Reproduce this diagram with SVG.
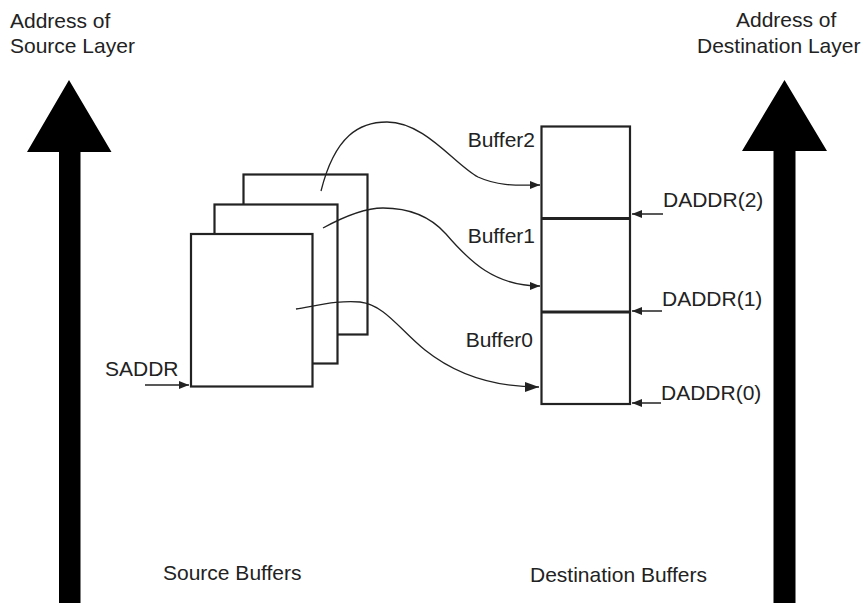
<svg xmlns="http://www.w3.org/2000/svg" width="864" height="603" viewBox="0 0 864 603">
<style>
text{font-family:"Liberation Sans",Arial,sans-serif;font-size:21px;fill:#222}
.buf{fill:#fff;stroke:#222;stroke-width:2.2}
.div{stroke:#222;stroke-width:3}
.big{fill:#000}
.con{fill:none;stroke:#222;stroke-width:1.3}
.ptr{fill:none;stroke:#222;stroke-width:1.5}
</style>
<defs>
<marker id="ah" markerUnits="userSpaceOnUse" markerWidth="10" markerHeight="8" refX="10" refY="4" orient="auto">
<path d="M0,0 L10,4 L0,8 z" fill="#222"/>
</marker>
<marker id="ahb" markerUnits="userSpaceOnUse" markerWidth="14" markerHeight="10" refX="14" refY="5" orient="auto">
<path d="M0,0 L14,5 L0,10 z" fill="#222"/>
</marker>
</defs>
<rect width="864" height="603" fill="#fff"/>

<g id="src-axis">
<polygon class="big" points="69,80 111.5,152 80.5,152 80.5,603 59,603 59,152 27,152"/>
<text x="10" y="28">Address of</text>
<text x="10" y="53">Source Layer</text>
</g>

<g id="dst-axis">
<polygon class="big" points="784.5,80 827,151 795.5,151 795.5,603 773.5,603 773.5,151 742,151"/>
<text x="736" y="27">Address of</text>
<text x="697" y="53">Destination Layer</text>
</g>

<g id="source-buffers">
<rect class="buf" x="243.5" y="174.5" width="124" height="160"/>
<rect class="buf" x="214.5" y="204.5" width="123" height="159"/>
<rect class="buf" x="191" y="234" width="121.5" height="152.5"/>
<text x="163" y="580">Source Buffers</text>
</g>

<g id="destination-buffers">
<rect class="buf" x="541.5" y="126.5" width="88.5" height="277.5"/>
<line class="div" x1="541.5" y1="218.5" x2="630" y2="218.5"/>
<line class="div" x1="541.5" y1="312" x2="630" y2="312"/>
<text x="535" y="147" text-anchor="end">Buffer2</text>
<text x="535" y="243" text-anchor="end">Buffer1</text>
<text x="533" y="347" text-anchor="end">Buffer0</text>
<text x="530" y="582">Destination Buffers</text>
</g>

<g id="saddr">
<text x="105" y="376">SADDR</text>
</g>
<g id="daddr2"><text x="663" y="207">DADDR(2)</text></g>
<g id="daddr1"><text x="662" y="306">DADDR(1)</text></g>
<g id="daddr0"><text x="661" y="400">DADDR(0)</text></g>

<g id="connectors">
<path class="con" marker-end="url(#ah)" d="M321,191 C335,135 360,122 387,122 C425,122 455,165 478,177 C500,187 520,185 540,185"/>
<path class="con" marker-end="url(#ah)" d="M323,228 C345,216 365,208 383,208 C410,208 430,216 446,234 C470,262 495,286 540,286"/>
<path class="con" marker-end="url(#ahb)" d="M296,309 C320,305 340,300 360,302 C385,305 400,330 425,350 C460,378 500,387 539,387"/>
<line class="ptr" marker-end="url(#ah)" x1="145" y1="385" x2="189" y2="385"/>
<line class="ptr" marker-end="url(#ah)" x1="663" y1="214" x2="632" y2="214"/>
<line class="ptr" marker-end="url(#ah)" x1="662" y1="311" x2="632" y2="311"/>
<line class="ptr" marker-end="url(#ah)" x1="661" y1="403" x2="632" y2="403"/>
</g>
</svg>
